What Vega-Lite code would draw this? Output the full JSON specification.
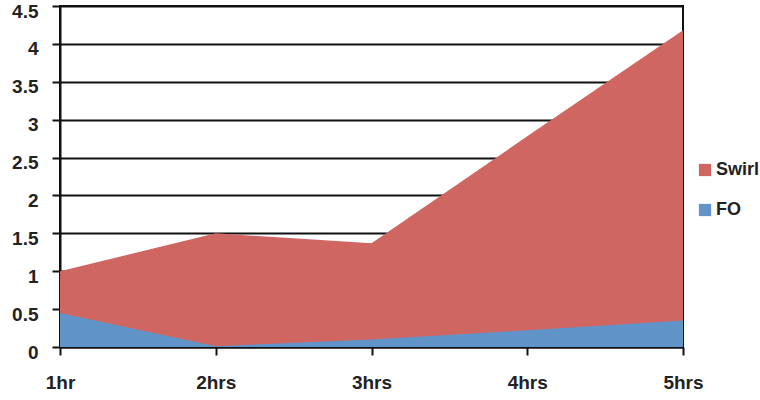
{
  "$schema": "https://vega.github.io/schema/vega-lite/v6.json",
  "width": 623,
  "height": 341,
  "autosize": {"type": "none"},
  "padding": {"left": 60, "top": 6, "right": 77, "bottom": 53},
  "background": "white",
  "config": {
    "font": "Liberation Sans",
    "view": {"stroke": "#111", "strokeWidth": 2},
    "axis": {"labelFont": "Liberation Sans", "labelFontWeight": "bold", "labelFontSize": 19, "labelColor": "#222", "domainColor": "#111", "domainWidth": 2, "tickColor": "#111", "tickWidth": 2, "gridColor": "#111", "gridWidth": 2, "gridOpacity": 1, "title": null},
    "legend": {"labelFont": "Liberation Sans", "labelFontWeight": "bold", "labelFontSize": 18, "labelColor": "#222"}
  },
  "data": {
    "values": [
      {"time": "1hr", "series": "Swirl", "value": 1.0},
      {"time": "2hrs", "series": "Swirl", "value": 1.5},
      {"time": "3hrs", "series": "Swirl", "value": 1.37},
      {"time": "4hrs", "series": "Swirl", "value": 2.78},
      {"time": "5hrs", "series": "Swirl", "value": 4.18},
      {"time": "1hr", "series": "FO", "value": 0.45},
      {"time": "2hrs", "series": "FO", "value": 0.01},
      {"time": "3hrs", "series": "FO", "value": 0.1},
      {"time": "4hrs", "series": "FO", "value": 0.22},
      {"time": "5hrs", "series": "FO", "value": 0.35}
    ]
  },
  "layer": [
    {
      "transform": [{"filter": "datum.series === 'Swirl'"}],
      "mark": {"type": "area", "opacity": 1},
      "encoding": {
        "x": {"field": "time", "type": "ordinal", "scale": {"type": "point", "padding": 0}, "axis": {"labelAngle": 0, "tickSize": 8, "labelPadding": 18, "grid": false, "domain": true}},
        "y": {"field": "value", "type": "quantitative", "stack": null, "scale": {"domain": [0, 4.5], "nice": false}, "axis": {"values": [0, 0.5, 1, 1.5, 2, 2.5, 3, 3.5, 4, 4.5], "format": "~g", "labelOverlap": false, "labelOffset": 5, "tickSize": 8, "labelPadding": 14, "grid": true}},
        "color": {"field": "series", "type": "nominal", "scale": {"domain": ["Swirl", "FO"], "range": ["#d06661", "#6094c9"]}, "legend": {"title": null, "orient": "none", "legendX": 636, "legendY": 155, "symbolType": "square", "symbolSize": 150, "rowPadding": 22, "labelOffset": 2, "labelLimit": 200}}
      }
    },
    {
      "transform": [{"filter": "datum.series === 'FO'"}],
      "mark": {"type": "area", "opacity": 1},
      "encoding": {
        "x": {"field": "time", "type": "ordinal", "scale": {"type": "point", "padding": 0}, "axis": {"labelAngle": 0, "tickSize": 8, "labelPadding": 18, "grid": false, "domain": true}},
        "y": {"field": "value", "type": "quantitative", "stack": null, "axis": {"values": [0, 0.5, 1, 1.5, 2, 2.5, 3, 3.5, 4, 4.5], "format": "~g", "labelOverlap": false, "labelOffset": 5, "tickSize": 8, "labelPadding": 14, "grid": true}},
        "color": {"field": "series", "type": "nominal"}
      }
    }
  ]
}
